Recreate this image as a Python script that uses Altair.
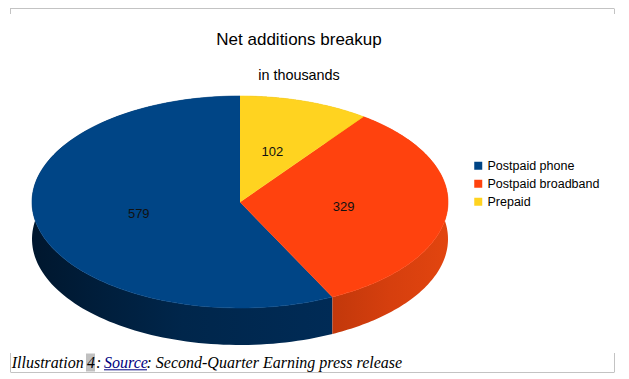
import altair as alt
import pandas as pd

# ---- data ----
categories = ["Postpaid phone", "Postpaid broadband", "Prepaid"]
values = [579, 329, 102]
face_colors = ["#004586", "#ff420e", "#ffd320"]
side_gradients = [
    ["#00172e", "#00264b", "#002b56"],
    ["#c2380b", "#d63f0e", "#e2450f"],
    ["#b38f12", "#c9a116", "#d9ad15"],
]
title_text = "Net additions breakup"
subtitle_text = "in thousands"
caption_parts = ["Illustration ", "4", ": ", "Source", ": Second-Quarter Earning press release"]

# ---- styling constants ----
N = 120          # samples along each arc
DEPTH = 0.349    # thickness of the 3D pie (in face-radius units)
LABEL_R = 0.5    # label radius (fraction of pie radius)
W, H = 416, 249  # plot area
PAD_L, PAD_T = 24, 88
SVG_W, SVG_H = 613, 366

df = pd.DataFrame({"category": categories, "value": values})

xs = alt.Scale(domain=[-1, 1], nice=False, zero=False)
ys = alt.Scale(domain=[-1 - DEPTH, 1], nice=False, zero=False)

base = (
    alt.Chart(df)
    .transform_window(cum="sum(value)")
    .transform_joinaggregate(total="sum(value)")
    .transform_calculate(
        a0="2*PI*(1 - (datum.cum - datum.value)/datum.total)",
        a1="2*PI*(1 - datum.cum/datum.total)",
    )
)

# side walls (one layer per slice so each has its own gradient)
sides = []
for cat, grad in zip(categories, side_gradients):
    stops = [alt.GradientStop(offset=i / (len(grad) - 1), color=c) for i, c in enumerate(grad)]
    side = (
        base.transform_filter(alt.datum.category == cat)
        .transform_calculate(steps=f"sequence(0, {2 * N + 2})")
        .transform_flatten(["steps"])
        .transform_calculate(
            f=f"datum.steps <= {N} ? datum.steps/{N} : ({2 * N + 1} - datum.steps)/{N}",
        )
        .transform_calculate(
            ang="datum.a0 + datum.f*(datum.a1 - datum.a0)",
        )
        .transform_calculate(
            px="sin(datum.ang)",
            py=f"cos(datum.ang) - (datum.steps <= {N} ? 0 : {DEPTH})",
        )
        .mark_line(
            filled=True,
            color=alt.LinearGradient(gradient="linear", stops=stops, x1=0, x2=1, y1=0, y2=0),
        )
        .encode(
            x=alt.X("px:Q", scale=xs, axis=None),
            y=alt.Y("py:Q", scale=ys, axis=None),
            order=alt.Order("steps:Q"),
        )
    )
    sides.append(side)

face = (
    base.transform_calculate(steps=f"sequence(0, {N + 2})")
    .transform_flatten(["steps"])
    .transform_calculate(ang=f"datum.a0 + (datum.steps - 1)/{N}*(datum.a1 - datum.a0)")
    .transform_calculate(
        px="datum.steps == 0 ? 0 : sin(datum.ang)",
        py="datum.steps == 0 ? 0 : cos(datum.ang)",
    )
    .mark_line(filled=True, strokeWidth=0.6)
    .encode(
        x=alt.X("px:Q", scale=xs, axis=None),
        y=alt.Y("py:Q", scale=ys, axis=None),
        color=alt.Color(
            "category:N",
            scale=alt.Scale(domain=categories, range=face_colors),
            sort=categories,
            legend=alt.Legend(
                orient="none",
                legendX=440,
                legendY=63.5,
                title=None,
                symbolType="square",
                symbolSize=64,
                symbolStrokeWidth=0,
                labelFont="Liberation Sans",
                labelFontSize=12.5,
                labelColor="#000000",
                labelOffset=3,
                rowPadding=5,
                padding=0,
            ),
        ),
        stroke=alt.Color("category:N", scale=alt.Scale(domain=categories, range=face_colors), legend=None),
        order=alt.Order("steps:Q"),
    )
)

labels = (
    base.transform_calculate(mid="(datum.a0 + datum.a1)/2")
    .transform_calculate(
        lx=f"{LABEL_R}*sin(datum.mid)",
        ly=f"{LABEL_R}*cos(datum.mid)",
    )
    .mark_text(font="Liberation Sans", fontSize=13, color="#111111")
    .encode(
        x=alt.X("lx:Q", scale=xs, axis=None),
        y=alt.Y("ly:Q", scale=ys, axis=None),
        text=alt.Text("value:Q"),
    )
)

one = alt.Data(values=[{}])
GRAY = "#c3c3c3"


def rule(x1, x2, y1, y2, color=GRAY):
    return alt.Chart(one).mark_rule(color=color, strokeWidth=1).encode(
        x=alt.value(x1), x2=alt.value(x2), y=alt.value(y1), y2=alt.value(y2)
    )


frame = [
    rule(-22, 582, -87.5, -87.5),
    rule(-21.5, -21.5, -87.5, -82),
    rule(582.5, 582.5, -87.5, -82),
    rule(-21, 582, 276.5, 276.5),
    rule(-21.5, -21.5, 257, 276.5),
    rule(582.5, 582.5, 257, 276.5),
]

highlight = alt.Chart(one).mark_rect(color="#c0c0c0").encode(
    x=alt.value(54), x2=alt.value(63), y=alt.value(257.5), y2=alt.value(275.5)
)

cap_x = [-20.3, 55, 64, 72, 114.5]
cap_col = ["#000000", "#000000", "#000000", "#000080", "#000000"]
caption = [
    alt.Chart(one)
    .mark_text(
        font="Liberation Serif",
        fontStyle="italic",
        fontSize=16,
        align="left",
        baseline="alphabetic",
        color=c,
    )
    .encode(x=alt.value(x), y=alt.value(272), text=alt.value(t))
    for t, x, c in zip(caption_parts, cap_x, cap_col)
]
underline = rule(72, 115, 273.8, 273.8, color="#000080")

chart = (
    alt.layer(*sides, face, labels, *frame, highlight, *caption, underline)
    .properties(
        width=W,
        height=H,
        background="#ffffff",
        autosize=alt.AutoSizeParams(type="none"),
        padding={"left": PAD_L, "top": PAD_T, "right": SVG_W - PAD_L - W, "bottom": SVG_H - PAD_T - H},
        title=alt.Title(
            title_text,
            subtitle=subtitle_text,
            font="Liberation Sans",
            fontSize=17,
            fontWeight="normal",
            color="#000000",
            subtitleFont="Liberation Sans",
            subtitleFontSize=14.4,
            subtitleColor="#000000",
            subtitlePadding=20,
            anchor="middle",
            frame="group",
            dx=59,
            offset=-75.4,
        ),
    )
    .configure_view(stroke="transparent", strokeWidth=0)
)

chart.save("out.html", embed_options={"renderer": "svg", "actions": False})
